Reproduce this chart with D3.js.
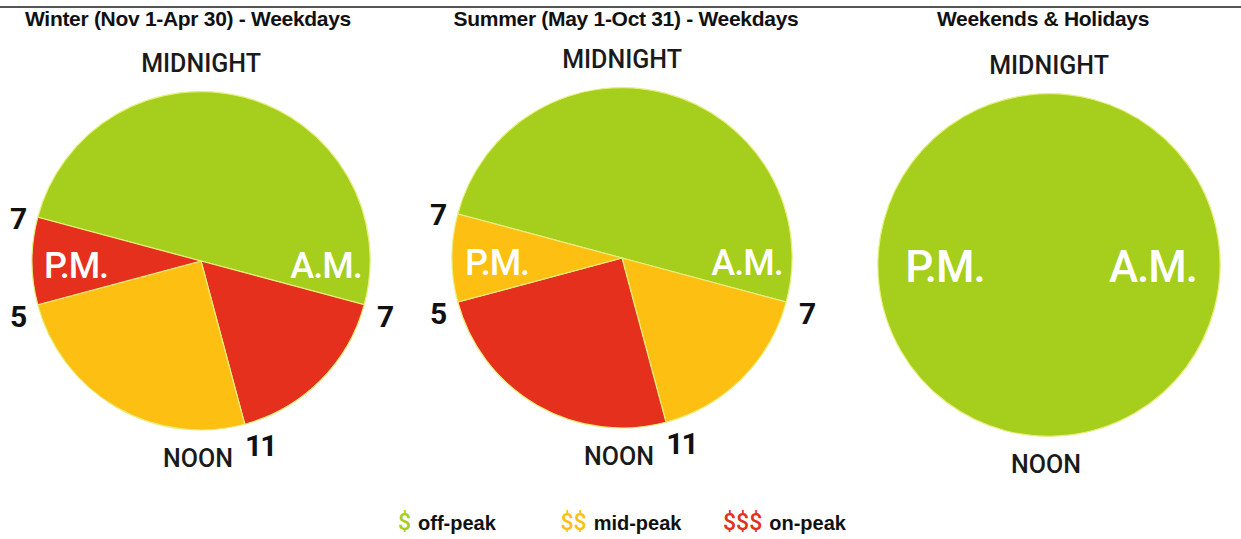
<!DOCTYPE html>
<html>
<head>
<meta charset="utf-8">
<script src="https://cdn.jsdelivr.net/npm/d3@7"></script>
<style>
  body { margin: 0; background: #fff; }
  svg { display: block; }
</style>
</head>
<body>
<script>
// rate periods; each clock lists its periods clockwise from a starting hour
var rates = ["off", "mid", "on"];
var rateColors = ["#a6ce1c", "#fdbf12", "#e4301c"];
var legendSymbols = ["$", "$$", "$$$"];
var legendLabels = ["off-peak", "mid-peak", "on-peak"];

var titles = ["Winter (Nov 1-Apr 30) - Weekdays", "Summer (May 1-Oct 31) - Weekdays", "Weekends & Holidays"];

// starting at 7 P.M. (hour 19)
var winterHours = [12, 4, 6, 2];
var winterRates = ["off", "on", "mid", "on"];
var summerHours = [12, 4, 6, 2];
var summerRates = ["off", "mid", "on", "mid"];
var weekendHours = [24];
var weekendRates = ["off"];
var startHour = 19;

// hour marks printed beside each clock
var winterTicks = [7, 11, 17, 19];
var summerTicks = [7, 11, 17, 19];
var weekendTicks = [];

var width = 1241, height = 539;

var svg = d3.select("body").append("svg")
    .attr("width", width)
    .attr("height", height);

// rule along the top
svg.append("line")
    .attr("x1", 0).attr("x2", width)
    .attr("y1", 7).attr("y2", 7)
    .attr("stroke", "#555")
    .attr("stroke-width", 2);

var color = d3.scaleOrdinal().domain(rates).range(rateColors);
var hourAngle = d3.scaleLinear().domain([0, 24]).range([0, 2 * Math.PI]);

var clocks = [
  {title: titles[0], hours: winterHours, rates: winterRates, ticks: winterTicks, cx: 201, cy: 261, r: 169, titleX: 188, lab: 36, labDx: 125},
  {title: titles[1], hours: summerHours, rates: summerRates, ticks: summerTicks, cx: 622, cy: 258, r: 170, titleX: 626, lab: 36, labDx: 125},
  {title: titles[2], hours: weekendHours, rates: weekendRates, ticks: weekendTicks, cx: 1049, cy: 265, r: 171, titleX: 1043, lab: 44, labDx: 104}
];

var pie = d3.pie().sort(null).value(function(d) { return d.h; })
    .startAngle(hourAngle(startHour) - 2 * Math.PI)
    .endAngle(hourAngle(startHour));

clocks.forEach(function(c) {
  svg.append("text")
      .attr("x", c.titleX)
      .attr("y", 26)
      .attr("text-anchor", "middle")
      .style("font-family", "Liberation Sans, Arial, sans-serif")
      .style("font-weight", "bold")
      .style("font-size", "21px")
      .style("letter-spacing", "-0.3px")
      .attr("fill", "#111")
      .text(c.title);

  var g = svg.append("g").attr("transform", "translate(" + c.cx + "," + c.cy + ")");
  var arc = d3.arc().innerRadius(0).outerRadius(c.r);
  var segs = c.hours.map(function(h, i) { return {h: h, rate: c.rates[i]}; });

  g.selectAll("path")
    .data(pie(segs))
    .enter().append("path")
      .attr("d", arc)
      .attr("fill", function(d) { return color(d.data.rate); })
      .attr("stroke", "#e6ee7c")
      .attr("stroke-width", 1.2);

  // MIDNIGHT / NOON
  g.append("text")
      .attr("y", -c.r - 20)
      .attr("text-anchor", "middle")
      .style("font-family", "Roboto, sans-serif")
      .style("font-weight", "500")
      .style("font-size", "25px")
      .attr("fill", "#1a1a1a")
      .text("MIDNIGHT");
  g.append("text")
      .attr("x", -3)
      .attr("y", c.r + 37)
      .attr("text-anchor", "middle")
      .style("font-family", "Roboto, sans-serif")
      .style("font-weight", "500")
      .style("font-size", "25px")
      .attr("fill", "#1a1a1a")
      .text("NOON");

  // P.M. / A.M.
  [["P.M.", -1], ["A.M.", 1]].forEach(function(p) {
    g.append("text")
        .attr("x", p[1] * c.labDx)
        .attr("y", 17)
        .attr("text-anchor", "middle")
        .style("font-family", "Roboto, sans-serif")
        .style("font-weight", "500")
        .style("font-size", c.lab + "px")
        .style("letter-spacing", "-1px")
        .attr("fill", "#fff")
        .text(p[0]);
  });

  // hour numbers
  g.selectAll(".tick")
    .data(c.ticks)
    .enter().append("text")
      .attr("class", "tick")
      .attr("x", function(h) {
        var x = Math.sin(hourAngle(h)) * (c.r + 21);
        return h === 11 ? x + 10 : x;
      })
      .attr("y", function(h) {
        var y = -Math.cos(hourAngle(h)) * (c.r + 21);
        return h === 11 ? y + 1 : y + 6;
      })
      .attr("dy", "0.36em")
      .attr("text-anchor", "middle")
      .style("font-family", "Roboto, sans-serif")
      .style("font-weight", "bold")
      .style("font-size", "30px")
      .style("letter-spacing", "-2px")
      .attr("fill", "#111")
      .text(function(h) { return h > 12 ? h - 12 : h; });
});

// legend
var lx = d3.scalePoint().domain(rates).range([398, 723]);
var leg = svg.selectAll(".legend")
    .data(rates)
    .enter().append("g")
    .attr("class", "legend")
    .attr("transform", function(d) { return "translate(" + lx(d) + ",530)"; });

var symW = [];
leg.append("text")
    .style("font-family", "Roboto, sans-serif")
    .style("font-weight", "500")
    .style("font-size", "23px")
    .attr("fill", function(d) { return color(d); })
    .text(function(d, i) { return legendSymbols[i]; })
    .each(function(d, i) { symW[i] = this.getComputedTextLength(); });

leg.append("text")
    .attr("x", function(d, i) { return symW[i] + 7; })
    .style("font-family", "Liberation Sans, Arial, sans-serif")
    .style("font-weight", "bold")
    .style("font-size", "20px")
    .attr("fill", "#111")
    .text(function(d, i) { return legendLabels[i]; });
</script>
</body>
</html>
